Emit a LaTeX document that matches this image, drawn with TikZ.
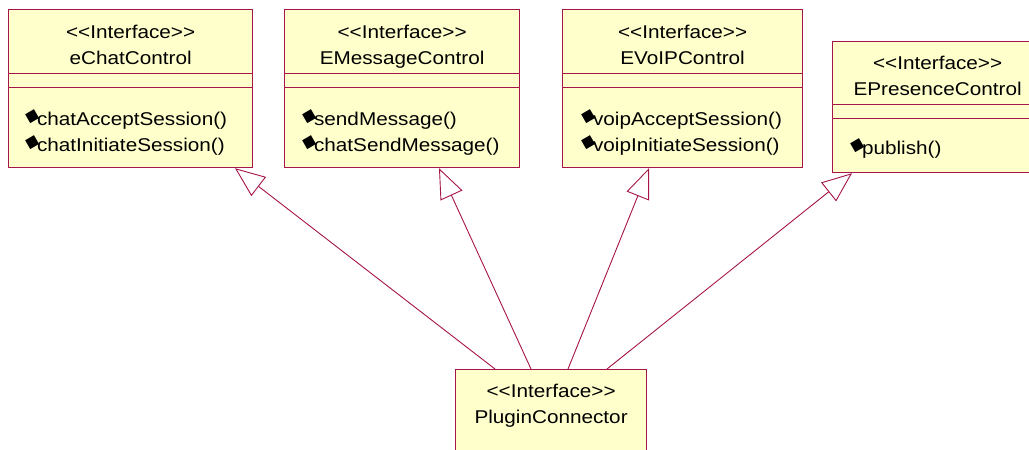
\documentclass[tikz,border=0pt]{standalone}
\usepackage{fontspec}
\setmainfont{Liberation Sans}[FakeStretch=1.12]
\newfontfamily\symfont{DejaVu Sans}
\usetikzlibrary{calc}
\usetikzlibrary{arrows.meta}

\definecolor{umlred}{RGB}{165,20,75}
\definecolor{umlfill}{RGB}{255,255,204}

% stereotype and operation marker
\newcommand{\stereo}{<\kern0pt<Interface>\kern0pt>}
\newcommand{\opmark}{\kern-2pt\raisebox{6pt}{\rotatebox{-15}{\fontsize{19}{19}\symfont ◆}}\kern-4pt}

\tikzset{
	classbox/.style={draw=umlred, fill=umlfill, line width=1.2pt, inner sep=0pt, anchor=north west},
	sepline/.style={draw=umlred, line width=1pt},
	ops/.style={anchor=base west, align=left, inner sep=0pt},
	realize/.style={draw=umlred, line width=0.9pt, -{Triangle[open, length=30pt, width=24pt, fill=white]}},
}

\begin{document}
\begin{tikzpicture}[x=1pt, y=-1pt, font=\fontsize{18.5}{26}\selectfont]
	\useasboundingbox (0,0) rectangle (1029,450);

	% class boxes
	\node[classbox, minimum width=244pt, minimum height=158pt] (chat) at (8,9) {};
	\node[classbox, minimum width=235pt, minimum height=158pt] (msg) at (284,9) {};
	\node[classbox, minimum width=240pt, minimum height=158pt] (voip) at (562,9) {};
	\node[classbox, minimum width=210pt, minimum height=131pt] (pres) at (832,41) {};
	\node[classbox, minimum width=191pt, minimum height=95pt] (plug) at (455,369) {};

	% compartments
	\draw[sepline] ($(chat.north west)+(0,64)$) -- ($(chat.north east)+(0,64)$);
	\draw[sepline] ($(chat.north west)+(0,78)$) -- ($(chat.north east)+(0,78)$);
	\draw[sepline] ($(msg.north west)+(0,64)$) -- ($(msg.north east)+(0,64)$);
	\draw[sepline] ($(msg.north west)+(0,78)$) -- ($(msg.north east)+(0,78)$);
	\draw[sepline] ($(voip.north west)+(0,64)$) -- ($(voip.north east)+(0,64)$);
	\draw[sepline] ($(voip.north west)+(0,78)$) -- ($(voip.north east)+(0,78)$);
	\draw[sepline] ($(pres.north west)+(0,63)$) -- ($(pres.north east)+(0,63)$);
	\draw[sepline] ($(pres.north west)+(0,77)$) -- ($(pres.north east)+(0,77)$);

	% names
	\node[anchor=base, align=center] (chat-name) at ($(chat.north)+(0,55)$) {\stereo\\eChatControl};
	\node[anchor=base, align=center] (msg-name) at ($(msg.north)+(0,55)$) {\stereo\\EMessageControl};
	\node[anchor=base, align=center] (voip-name) at ($(voip.north)+(0,55)$) {\stereo\\EVoIPControl};
	\node[anchor=base, align=center] (pres-name) at ($(pres.north)+(0,54)$) {\stereo\\EPresenceControl};
	\node[anchor=base, align=center] (plug-name) at ($(plug.north)+(0,54)$) {\stereo\\PluginConnector};

	% operations
	\node[ops] (chat-ops) at ($(chat.north west)+(17,142)$) {\opmark chatAcceptSession()\\\opmark chatInitiateSession()};
	\node[ops] (msg-ops) at ($(msg.north west)+(18,142)$) {\opmark sendMessage()\\\opmark chatSendMessage()};
	\node[ops] (voip-ops) at ($(voip.north west)+(19,142)$) {\opmark voipAcceptSession()\\\opmark voipInitiateSession()};
	\node[ops] (pres-ops) at ($(pres.north west)+(18,113)$) {\opmark publish()};

	% realizations
	\draw[realize] ($(plug.north west)+(40,0)$) -- ($(chat.south west)+(227,0)$);
	\draw[realize] ($(plug.north west)+(76,0)$) -- ($(msg.south west)+(155,0)$);
	\draw[realize] ($(plug.north west)+(113,0)$) -- ($(voip.south west)+(87,0)$);
	\draw[realize] ($(plug.north west)+(152,0)$) -- ($(pres.south west)+(20,0)$);

\end{tikzpicture}
\end{document}
